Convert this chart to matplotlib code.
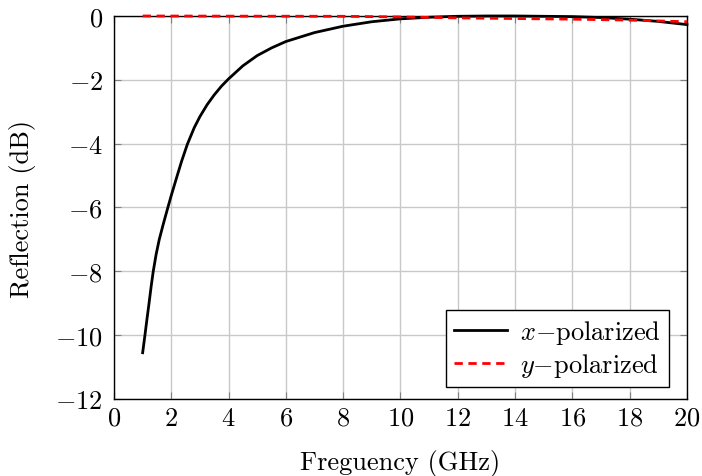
import matplotlib
matplotlib.use("Agg")
import matplotlib.pyplot as plt

# ---------- data ----------
freq_x = [1.0, 1.08, 1.15, 1.22, 1.3, 1.37, 1.47, 1.58, 1.72, 1.88, 2.0, 2.19, 2.36,
          2.56, 2.8, 3.0, 3.25, 3.5, 3.75, 4.0, 4.5, 5.0, 5.5, 6.0, 7.0, 8.0, 9.0,
          10.0, 11.0, 12.0, 13.0, 14.0, 15.0, 16.0, 17.0, 18.0, 19.0, 20.0]
refl_x = [-10.55, -10.0, -9.5, -9.02, -8.45, -8.0, -7.47, -7.0, -6.52, -6.0, -5.62,
          -5.05, -4.55, -4.02, -3.5, -3.15, -2.78, -2.47, -2.2, -1.97, -1.56, -1.24,
          -1.0, -0.8, -0.52, -0.32, -0.18, -0.09, -0.04, -0.01, 0.0, 0.0, -0.01,
          -0.02, -0.05, -0.1, -0.17, -0.27]

freq_y = [1.0, 4.0, 8.0, 10.0, 12.0, 14.0, 16.0, 18.0, 20.0]
refl_y = [0.0, -0.005, -0.01, -0.03, -0.06, -0.08, -0.1, -0.13, -0.18]

xticks = list(range(0, 21, 2))
yticks = list(range(-12, 1, 2))

# ---------- style ----------
plt.rcParams["font.family"] = "serif"
plt.rcParams["font.serif"] = ["cmr10"]
plt.rcParams["mathtext.fontset"] = "cm"
plt.rcParams["axes.formatter.use_mathtext"] = True
fs = 19
plt.rcParams["font.size"] = fs

fig = plt.figure(figsize=(7.02, 4.77), dpi=100)
ax = fig.add_axes([0.1624, 0.1614, 0.8162, 0.803])

ax.plot(freq_x, refl_x, color="black", linewidth=2, label=r"$x$$-$polarized",
        clip_on=False, zorder=3)
ax.plot(freq_y, refl_y, color="red", linewidth=2, dashes=(3, 2),
        label=r"$y$$-$polarized", clip_on=False, zorder=4)

ax.set_xlim(0, 20)
ax.set_ylim(-12, 0)
ax.set_xticks(xticks)
ax.set_yticks(yticks)

ax.grid(True, color="#c8c8c8", linewidth=1)
ax.set_axisbelow(True)
ax.tick_params(direction="in", length=5, color="#808080", top=True, right=True,
               labelsize=fs)
ax.tick_params(axis="y", pad=8)
ax.tick_params(axis="x", pad=5)
for sp in ax.spines.values():
    sp.set_linewidth(1)
    sp.set_color("black")

ax.set_xlabel("Freguency (GHz)", fontsize=fs, labelpad=14)
ax.set_ylabel("Reflection (dB)", fontsize=fs, labelpad=14)

leg = ax.legend(loc="lower right", bbox_to_anchor=(0.9686, 0.0313), fontsize=fs,
                fancybox=False, framealpha=1, edgecolor="black", borderaxespad=0,
                handlelength=2.0, borderpad=0.3, labelspacing=0.2,
                handletextpad=0.5)
leg.get_frame().set_linewidth(1)

fig.savefig("out.png", dpi=100)
